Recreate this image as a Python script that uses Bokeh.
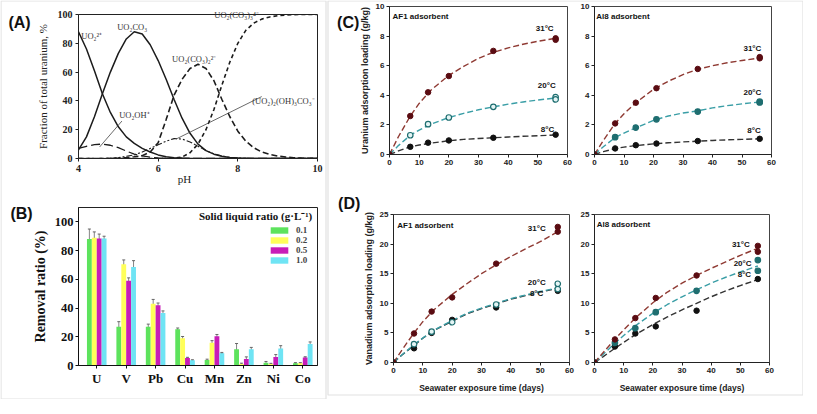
from bokeh.plotting import figure
from bokeh.layouts import row, column
from bokeh.models import (Label, Whisker, ColumnDataSource, Legend, LegendItem,
                          FixedTicker, GridBox, BoxAnnotation, Range1d)
from bokeh.transform import dodge
from bokeh.embed import file_html
from bokeh.resources import INLINE

SERIF = "Liberation Serif"
SANS = "Liberation Sans"

# ---------------- Panel A : uranium speciation vs pH ----------------
ph = [4.0, 4.2, 4.4, 4.6, 4.8, 5.0, 5.2, 5.4, 5.6, 5.8, 6.0, 6.2, 6.4, 6.6, 6.8, 7.0,
      7.2, 7.4, 7.6, 7.8, 8.0, 8.2, 8.4, 8.6, 8.8, 9.0, 9.2, 9.4, 9.6, 9.8, 10.0]
uo2_2p = [88, 76, 61, 45, 32, 22, 15, 10.5, 7, 4.5, 2.5, 1.2, 0.6, 0.3, 0.1, 0,
          0, 0, 0, 0, 0, 0, 0, 0, 0, 0, 0, 0, 0, 0, 0]
uo2co3 = [6, 15, 29, 45, 60, 73, 83, 88, 86.5, 79, 68, 55, 41, 28, 17.5, 10,
          5.5, 3, 1.5, 0.7, 0.3, 0.1, 0, 0, 0, 0, 0, 0, 0, 0, 0]
uo2co3_2 = [0, 0, 0, 0, 0.1, 0.3, 0.7, 1.2, 2, 4.5, 11, 27, 44, 55, 62.5, 65.5,
            62.5, 54, 41, 29, 19, 12, 7.5, 4.5, 2.8, 1.7, 1, 0.5, 0.25, 0.1, 0]
uo2co3_3 = [0, 0, 0, 0, 0, 0, 0, 0, 0, 0, 0, 0.1, 0.3, 1, 4, 10,
            20, 34, 51, 67, 80, 89, 94, 96.8, 98.3, 99.2, 99.6, 99.9, 100, 100, 100]
uo2oh = [7, 8.5, 9.6, 10, 9.2, 7.5, 5.2, 3, 1.8, 0.9, 0.4, 0.15, 0, 0, 0, 0,
         0, 0, 0, 0, 0, 0, 0, 0, 0, 0, 0, 0, 0, 0, 0]
uo2_2_oh3co3 = [0, 0, 0, 0, 0.2, 0.6, 1.5, 2.5, 4.5, 7, 9.5, 12, 13.8, 13.5, 11.5, 8.5,
                5.5, 3.2, 1.7, 0.8, 0.3, 0.1, 0, 0, 0, 0, 0, 0, 0, 0, 0]
ph_ticks = [4, 6, 8, 10]
frac_ticks = [0, 20, 40, 60, 80, 100]
species_text = ["UO₂²⁺", "UO₂CO₃", "UO₂(CO₃)₂²⁻", "UO₂OH⁺", "(UO₂)₂(OH)₃CO₃⁻"]
species_x = [4.07, 4.97, 6.35, 5.02, 8.36]
species_y = [85, 91, 69, 30, 40]
top_species_text = "UO₂(CO₃)₃⁴⁻"
leader_x0 = [5.09, 8.6]
leader_y0 = [26, 43]
leader_x1 = [4.53, 6.45]
leader_y1 = [8, 13.5]

# ---------------- Panel B : removal ratio ----------------
metals = ["U", "V", "Pb", "Cu", "Mn", "Zn", "Ni", "Co"]
ratio_labels = ["0.1", "0.2", "0.5", "1.0"]
r01 = [88, 27, 27, 25.3, 3.8, 11.3, 2, 1.5]
r01_err = [7, 3.5, 1.8, 0.8, 0.6, 4, 0.8, 0.5]
r02 = [89, 70.5, 43, 19, 15.8, 1.1, 1.1, 1.5]
r02_err = [4, 3, 3, 1.2, 1.5, 0.5, 0.4, 0.5]
r05 = [88.5, 59, 42, 5.2, 20.4, 4.5, 5.9, 5.6]
r05_err = [3, 2, 1.5, 0.5, 1.2, 1.5, 1.7, 0.5]
r10 = [88.5, 68.5, 36.5, 3.6, 8.6, 11.3, 11.8, 14.9]
r10_err = [1.5, 4.5, 1.5, 0.4, 0.5, 1.3, 2, 1.5]
removal_ticks = [0, 20, 40, 60, 80, 100]

# ---------------- Panels C / D : adsorption kinetics ----------------
temps = ["31°C", "20°C", "8°C"]
days_af1 = [0, 7, 13, 20, 35, 56]
days_al8 = [0, 7, 14, 21, 35, 56]
fit_days = [0, 3, 7, 10, 14, 20, 25, 30, 35, 40, 45, 50, 56]
rep_day = [56]

# C : uranium
u_af1_31 = [0, 2.6, 4.2, 5.3, 7.0, 7.85]
u_af1_20 = [0, 1.3, 2.05, 2.5, 3.22, 3.88]
u_af1_8 = [0, 0.52, 0.8, 0.95, 1.13, 1.34]
u_af1_rep31 = [7.75]
u_af1_rep20 = [3.72]
u_af1_fit31 = [0, 1.2, 2.6, 3.45, 4.35, 5.35, 5.95, 6.5, 6.9, 7.2, 7.45, 7.65, 7.85]
u_af1_fit20 = [0, 0.6, 1.3, 1.65, 2.05, 2.5, 2.78, 3.02, 3.22, 3.4, 3.55, 3.68, 3.82]
u_af1_fit8 = [0, 0.24, 0.52, 0.64, 0.77, 0.93, 1.02, 1.08, 1.13, 1.18, 1.23, 1.27, 1.32]

u_al8_31 = [0, 2.1, 3.5, 4.48, 5.78, 6.5]
u_al8_20 = [0, 1.17, 1.82, 2.38, 2.9, 3.57]
u_al8_8 = [0, 0.41, 0.63, 0.74, 0.91, 1.06]
u_al8_rep31 = [6.58]
u_al8_rep20 = [3.52]
u_al8_fit31 = [0, 0.95, 2.1, 2.75, 3.5, 4.4, 4.95, 5.4, 5.75, 6.0, 6.2, 6.35, 6.52]
u_al8_fit20 = [0, 0.52, 1.15, 1.45, 1.8, 2.3, 2.6, 2.8, 2.95, 3.15, 3.3, 3.42, 3.55]
u_al8_fit8 = [0, 0.19, 0.4, 0.5, 0.6, 0.72, 0.79, 0.85, 0.9, 0.95, 0.99, 1.02, 1.06]

# D : vanadium
v_af1_31 = [0, 4.9, 8.6, 11.0, 16.7, 22.1]
v_af1_20 = [0, 3.1, 5.2, 6.8, 9.8, 12.4]
v_af1_8 = [0, 2.4, 5.0, 7.2, 9.3, 12.1]
v_af1_rep31 = [22.9]
v_af1_rep20 = [13.3]
v_af1_fit31 = [0, 2.2, 5.0, 6.9, 9.0, 11.5, 13.3, 15.0, 16.5, 17.9, 19.2, 20.4, 22.1]
v_af1_fit20 = [0, 1.35, 3.0, 4.15, 5.5, 7.1, 8.3, 9.2, 10.0, 10.8, 11.4, 12.0, 12.6]
v_af1_fit8 = [0, 1.3, 2.9, 4.1, 5.45, 7.0, 8.2, 9.1, 9.9, 10.7, 11.3, 11.9, 12.5]

v_al8_31 = [0, 3.9, 7.5, 10.9, 14.7, 18.7]
v_al8_20 = [0, 3.3, 5.8, 8.5, 12.1, 15.5]
v_al8_8 = [0, 2.7, 4.9, 6.1, 8.75, 14.1]
v_al8_rep31 = [19.7]
v_al8_rep20 = [17.3]
v_al8_fit31 = [0, 1.7, 3.95, 5.5, 7.5, 10.1, 11.9, 13.4, 14.7, 15.9, 17.0, 18.1, 19.3]
v_al8_fit20 = [0, 1.4, 3.25, 4.55, 6.2, 8.3, 9.8, 11.1, 12.3, 13.4, 14.4, 15.3, 16.3]
v_al8_fit8 = [0, 1.0, 2.4, 3.4, 4.7, 6.4, 7.7, 8.9, 10.0, 11.1, 12.1, 13.0, 14.0]

day_ticks = [0, 10, 20, 30, 40, 50, 60]
u_ticks = [0, 2, 4, 6, 8, 10]
v_ticks = [0, 5, 10, 15, 20, 25]

# ---------------- styling helpers ----------------
def base_fig(w, h, ml, mr, mt, mb, xr, yr):
    p = figure(width=w, height=h, x_range=xr, y_range=yr, output_backend="svg",
               toolbar_location=None, min_border_left=ml, min_border_right=mr,
               min_border_top=mt, min_border_bottom=mb)
    p.xgrid.visible = False
    p.ygrid.visible = False
    p.border_fill_color = "white"
    p.background_fill_color = "white"
    return p


def axis_style(p, font, size, color, tick_out=3, standoff=3, bold=True):
    for ax in (p.xaxis[0], p.yaxis[0]):
        ax.major_label_text_font = font
        ax.major_label_text_font_size = size
        ax.major_label_text_font_style = "bold" if bold else "normal"
        ax.major_label_text_color = color
        ax.major_label_standoff = standoff
        ax.major_tick_out = tick_out
        ax.major_tick_in = 0
        ax.minor_tick_line_color = None
        ax.axis_line_color = color
        ax.major_tick_line_color = color
        ax.axis_label_text_font = font
        ax.axis_label_text_color = color


def add_label(p, x, y, text, font, size, bold=False, align="left", color="#222"):
    p.add_layout(Label(x=x, y=y, text=text, text_font=font, text_font_size=size,
                       text_font_style="bold" if bold else "normal",
                       text_align=align, text_baseline="middle", text_color=color))


# ---------------- Panel A ----------------
pa = base_fig(327, 183, 72, 9, 14, 25, (4, 10), (0, 100))
axis_style(pa, SERIF, "10px", "#222")
pa.xaxis.ticker = FixedTicker(ticks=ph_ticks)
pa.yaxis.ticker = FixedTicker(ticks=frac_ticks)
pa.yaxis.axis_label = "Fraction of total uranium, %"
pa.yaxis.axis_label_text_font_size = "11px"
pa.yaxis.axis_label_text_font_style = "normal"
pa.yaxis.axis_label_standoff = 6
pa.outline_line_color = "#222"

ink = "#1c1c1c"
pa.line(ph, uo2_2p, line_color=ink, line_width=1.5)
pa.line(ph, uo2co3, line_color=ink, line_width=1.5)
pa.line(ph, uo2co3_2, line_color=ink, line_width=1.6, line_dash="6 3")
pa.line(ph, uo2co3_3, line_color=ink, line_width=1.6, line_dash="4 3")
pa.line(ph, uo2oh, line_color=ink, line_width=1.3, line_dash="9 4")
pa.line(ph, uo2_2_oh3co3, line_color=ink, line_width=1.1, line_dash="6 2 2 2 2 2")
pa.segment(x0=leader_x0, y0=leader_y0, x1=leader_x1, y1=leader_y1,
           line_color="#444", line_width=0.8)
for t, x, y in zip(species_text, species_x, species_y):
    add_label(pa, x, y, t, SERIF, "8.5px", color="#333")

# ---------------- Panel B ----------------
pb = base_fig(327, 216, 78, 10, 24, 34, (-0.62, 7.5), (0, 110))
axis_style(pb, SERIF, "12.5px", "#111", tick_out=3, standoff=2)
pb.xaxis.ticker = FixedTicker(ticks=list(range(len(metals))))
pb.xaxis.major_label_overrides = {i: m for i, m in enumerate(metals)}
pb.xaxis.major_label_text_font_size = "13px"
pb.yaxis.ticker = FixedTicker(ticks=removal_ticks)
pb.yaxis.axis_label = "Removal ratio (%)"
pb.yaxis.axis_label_text_font_size = "14px"
pb.yaxis.axis_label_text_font_style = "bold"
pb.yaxis.axis_label_standoff = 4
pb.outline_line_color = "#222"

bsrc = dict(x=list(range(len(metals))))
series_b = [("a", r01, r01_err, "#5de35d"), ("b", r02, r02_err, "#ffff5a"),
            ("c", r05, r05_err, "#c81db8"), ("d", r10, r10_err, "#6fe4f4")]
for key, vals, errs, _ in series_b:
    bsrc[key] = vals
    bsrc[key + "_hi"] = [v + e for v, e in zip(vals, errs)]
    bsrc[key + "_lo"] = [v - e for v, e in zip(vals, errs)]
bsource = ColumnDataSource(bsrc)
offsets = [-0.25, -0.083, 0.083, 0.25]
items = []
for (key, vals, errs, color), off, lab in zip(series_b, offsets, ratio_labels):
    r = pb.vbar(x=dodge("x", off), top=key, width=0.165, source=bsource,
                fill_color=color, line_color=None)
    w = Whisker(base=dodge("x", off), upper=key + "_hi", lower=key + "_lo",
                source=bsource, line_color="#666", line_width=0.8)
    w.upper_head.size = 3
    w.lower_head.size = 3
    w.upper_head.line_color = "#666"
    w.lower_head.line_color = "#666"
    pb.add_layout(w)
    items.append(LegendItem(label=lab, renderers=[r]))
leg = Legend(items=items, location=(190, 100), border_line_color=None,
             background_fill_alpha=0, padding=0, margin=0, spacing=0,
             glyph_width=22, glyph_height=8, label_height=8, label_standoff=6,
             label_text_font=SERIF, label_text_font_size="9px",
             label_text_font_style="bold")
pb.add_layout(leg)
add_label(pb, 3.47, 104.3, "Solid liquid ratio (g·L⁻¹)", SERIF, "11px", bold=True, color="#111")

# ---------------- Panels C / D ----------------
C31_PT, C31_LN = "#5a0c12", "#8f3a33"
C20_PT, C20_LN, C20_HOLLOW = "#1f6e70", "#3a9ea6", "#e4f5f5"
C8_PT, C8_LN = "#111111", "#333333"


def kinetics(w, h, ml, mr, mt, mb, ymax, yticks, days, s31, s20, s8, rep31, rep20,
             f31, f20, f8, hollow, lab_pos, ads_text, ads_pos):
    p = base_fig(w, h, ml, mr, mt, mb, (0, 60), (0, ymax))
    axis_style(p, SANS, "8px", "#222", tick_out=3, standoff=2)
    p.xaxis.ticker = FixedTicker(ticks=day_ticks)
    p.yaxis.ticker = FixedTicker(ticks=yticks)
    p.outline_line_color = "#444"
    p.line(fit_days, f8, line_color=C8_LN, line_width=1.4, line_dash="6 3")
    p.line(fit_days, f20, line_color=C20_LN, line_width=1.4, line_dash="6 3")
    p.line(fit_days, f31, line_color=C31_LN, line_width=1.4, line_dash="6 3")
    p.scatter(days, s8, size=5.5, fill_color=C8_PT, line_color=C8_PT)
    fill20 = C20_HOLLOW if hollow else C20_PT
    p.scatter(days, s20, size=5.5, fill_color=fill20, line_color=C20_PT, line_width=1.2)
    p.scatter(rep_day, rep20, size=5.5, fill_color=fill20, line_color=C20_PT, line_width=1.2)
    p.scatter(days, s31, size=5.5, fill_color=C31_PT, line_color=C31_PT)
    p.scatter(rep_day, rep31, size=5.5, fill_color=C31_PT, line_color=C31_PT)
    for t, (x, y) in zip(temps, lab_pos):
        add_label(p, x, y, t, SANS, "8px", bold=True, color="#111")
    add_label(p, ads_pos[0], ads_pos[1], ads_text, SANS, "8px", bold=True, color="#111")
    return p


pc1 = kinetics(250, 188, 62, 10, 4, 34, 10, u_ticks, days_af1, u_af1_31, u_af1_20, u_af1_8,
               u_af1_rep31, u_af1_rep20, u_af1_fit31, u_af1_fit20, u_af1_fit8, True,
               [(49.3, 8.48), (50, 4.65), (51, 1.67)], "AF1 adsorbent", (1, 9.3))
pc1.yaxis.axis_label = "Uranium adsorption loading (g/kg)"
pc1.yaxis.axis_label_text_font_size = "9px"
pc1.yaxis.axis_label_text_font_style = "bold"
pc1.yaxis.axis_label_standoff = 3

pc2 = kinetics(226, 188, 17, 32, 6, 32, 10, u_ticks, days_al8, u_al8_31, u_al8_20, u_al8_8,
               u_al8_rep31, u_al8_rep20, u_al8_fit31, u_al8_fit20, u_al8_fit8, False,
               [(50.5, 7.16), (50.5, 4.17), (51.8, 1.64)], "Al8 adsorbent", (0.6, 9.35))

pd1 = kinetics(250, 211, 66, 8, 26, 37, 25, v_ticks, days_af1, v_af1_31, v_af1_20, v_af1_8,
               v_af1_rep31, v_af1_rep20, v_af1_fit31, v_af1_fit20, v_af1_fit8, True,
               [(45.8, 22.6), (45.8, 13.5), (46.5, 11.7)], "AF1 adsorbent", (1.3, 23.1))
pd1.yaxis.axis_label = "Vanadium adsorption loading (g/kg)"
pd1.yaxis.axis_label_text_font_size = "9px"
pd1.yaxis.axis_label_text_font_style = "bold"
pd1.yaxis.axis_label_standoff = 3

pd2 = kinetics(226, 211, 16, 34, 26, 37, 25, v_ticks, days_al8, v_al8_31, v_al8_20, v_al8_8,
               v_al8_rep31, v_al8_rep20, v_al8_fit31, v_al8_fit20, v_al8_fit8, False,
               [(47.1, 19.9), (47.7, 16.7), (49.1, 14.8)], "Al8 adsorbent", (0.8, 23.3))

for p in (pd1, pd2):
    p.xaxis.axis_label = "Seawater exposure time (days)"
    p.xaxis.axis_label_text_font_size = "8.5px"
    p.xaxis.axis_label_text_font_style = "bold"
    p.xaxis.axis_label_standoff = 7

main = row(column(pa, pb), column(row(pc1, pc2), row(pd1, pd2)))

# ---------------- overlay for texts that sit outside the plot frames ----------------
W, H = 803, 399
ov = figure(width=W, height=H, x_range=Range1d(0, W), y_range=Range1d(H, 0),
            output_backend="svg", toolbar_location=None, min_border=0,
            x_axis_type=None, y_axis_type=None)
ov.outline_line_color = None
ov.background_fill_color = None
ov.border_fill_color = None
ov.grid.visible = False
# panel boxes: left (A, B) and right (C, D)
ov.add_layout(BoxAnnotation(left=0.5, right=325.5, top=0.5, bottom=H - 0.5,
                            fill_alpha=0, line_color="#9c9c9c", line_width=1.2))
ov.add_layout(BoxAnnotation(left=327.5, right=W - 0.5, top=0.5, bottom=394.5,
                            fill_alpha=0, line_color="#9c9c9c", line_width=1.2))
panel_letters = ["(A)", "(B)", "(C)", "(D)"]
letter_x = [7.9, 9.9, 336.6, 337.6]
letter_y = [21.5, 212.6, 22.4, 202.8]
for t, x, y in zip(panel_letters, letter_x, letter_y):
    add_label(ov, x, y, t, SANS, "16px", bold=True, color="#111")
add_label(ov, 184, 178.4, "pH", SERIF, "11px", align="center")
add_label(ov, 213.8, 14.8, top_species_text, SERIF, "8.5px", color="#333")

layout = GridBox(children=[(main, 0, 0), (ov, 0, 0)])

open("out.html", "w").write(file_html(layout, INLINE))
